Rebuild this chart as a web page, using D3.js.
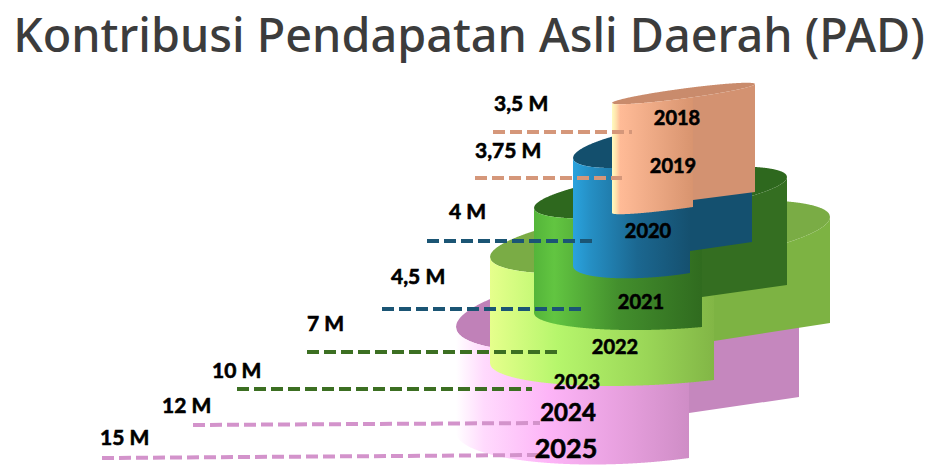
<!DOCTYPE html>
<html>
<head>
<meta charset="utf-8">
<script src="https://cdn.jsdelivr.net/npm/d3@7"></script>
<style>
  html, body { margin: 0; padding: 0; background: #fff; }
  svg { display: block; }
</style>
</head>
<body>
<div id="chart"></div>
<script>
// ---- data ----
const title = 'Kontribusi Pendapatan Asli Daerah (PAD)';
const years = ['2018', '2019', '2020', '2021', '2022', '2023', '2024', '2025'];
const values = [3.5, 3.75, 4, 4.5, 7, 10, 12, 15];           // miliar (M)
const valueLabels = values.map(v => String(v).replace('.', ',') + ' M');
const tierKeys = ['peach', 'blue', 'dkgreen', 'ltgreen', 'pink'];   // top -> bottom
const lineKeys = ['peach', 'peach', 'blue', 'blue', 'green', 'green', 'pink', 'pink'];

// ---- styles ----
const lineColor = { peach: '#d5977a', blue: '#1b5574', green: '#3c6f22', pink: '#d393cb' };
const tierStyle = {
  peach:   { top: '#c98b6c', side: '#d39271', stops: [[0, '#fffcc0'], [0.05, '#ffe2ad'], [0.1, '#ffbb97'], [1, '#d8946f']] },
  blue:    { top: '#134f6d', side: '#14506f', stops: [[0, '#2aa3de'], [0.15, '#258fc4'], [0.55, '#1b6790'], [1, '#15506f']] },
  dkgreen: { top: '#2e681e', side: '#346e21', stops: [[0, '#54b53a'], [0.12, '#62c541'], [0.5, '#438f2d'], [1, '#306b1f']] },
  ltgreen: { top: '#7aac45', side: '#7db343', stops: [[0, '#e6ff8c'], [0.3, '#b6f66c'], [0.7, '#9ad657'], [1, '#82b646']] },
  pink:    { top: '#c081b8', side: '#c587be', stops: [[0, '#ffffff'], [0.12, '#ffdafd'], [0.4, '#fdb4f7'], [0.75, '#e49ddb'], [1, '#cf8dc6']] }
};

// ---- layout (pixel geometry of the stepped cylinders) ----
const W = 938, H = 472;
const tierShape = {
  peach:   { L: 612, R: 755, topL: 103, topR: 84,  ry: 5,  S: 693, botL: 213, botS: 207, botS2: 200, botR: 192 },
  blue:    { L: 573, R: 752, topL: 158, topR: 132, ry: 19, S: 690, botL: 266, botS: 273, botS2: 251, botR: 242 },
  dkgreen: { L: 534, R: 787, topL: 208, topR: 177, ry: 21, S: 702, botL: 313, botS: 327, botS2: 297, botR: 285 },
  ltgreen: { L: 490, R: 830, topL: 257, topR: 217, ry: 31, S: 714, botL: 363, botS: 380, botS2: 341, botR: 323 },
  pink:    { L: 456, R: 799, topL: 327, topR: 287, ry: 40, S: 689, botL: 432, botS: 458, botS2: 413, botR: 397 }
};
const rowLine = d3.scaleOrdinal(years, [[132, 493, 632], [178, 475, 622], [241, 427, 595], [309, 382, 581],
                                        [352, 307, 558], [389, 237, 532], [[425, 423], 193, 540], [[458, 455], 102, 538]]);
const rowLabel = d3.scaleOrdinal(years, [[494, 111], [475, 158], [449, 219], [391, 284],
                                         [307, 331], [212, 378], [162, 413], [100, 445]]);
const rowYear = d3.scaleOrdinal(years, [[677, 125, 20], [673, 173, 20], [648, 238, 20], [641, 309, 20],
                                        [615, 354, 20], [577, 389, 20], [568, 421, 24], [566, 458, 27]]);

const svg = d3.select('#chart').append('svg').attr('width', W).attr('height', H);
const defs = svg.append('defs');

// title, fitted to the reference width
const t = svg.append('text').attr('x', W / 2).attr('y', 52).attr('text-anchor', 'middle')
  .style('font-family', '"Noto Sans", "Open Sans", sans-serif').style('font-weight', 500)
  .style('font-size', '46px').style('fill', '#3c3c3c').text(title);
const tw = t.node().getComputedTextLength();
t.style('font-size', (46 * 912 / tw) + 'px');

const line = d3.line();

const tierGeom = s => {
  const cx = (s.L + s.R) / 2, a = (s.R - s.L) / 2, sl = (s.topR - s.topL) / (s.R - s.L);
  const hh = x => Math.sqrt(Math.max(0, 1 - ((x - cx) / a) ** 2));
  const mid = x => s.topL + sl * (x - s.L);
  const up = x => mid(x) - s.ry * hh(x), lo = x => mid(x) + s.ry * hh(x);
  const k = (s.botS - s.botL - s.ry * hh(s.S)) / (s.S - s.L);
  const bot = x => s.botL + k * (x - s.L) + s.ry * hh(x);
  const xsAll = d3.range(s.L, s.R, 0.5).concat([s.R]);
  const xsLeft = d3.range(s.L, s.S, 0.5).concat([s.S]);
  const xsRight = d3.range(s.S, s.R, 0.5).concat([s.R]);
  return {
    top: line(xsAll.map(x => [x, up(x)]).concat(xsAll.slice().reverse().map(x => [x, lo(x)]))) + 'Z',
    left: line(xsLeft.map(x => [x, lo(x)]).concat(xsLeft.slice().reverse().map(x => [x, bot(x)]))) + 'Z',
    right: line(xsRight.map(x => [x, lo(x)]).concat([[s.R, s.botR], [s.S, s.botS2]])) + 'Z'
  };
};

// draw bottom tier first so upper tiers overlap it
const gT = svg.append('g');
tierKeys.slice().reverse().forEach(key => {
  const s = tierShape[key], st = tierStyle[key], g = tierGeom(s);
  const grad = defs.append('linearGradient').attr('id', 'g-' + key)
    .attr('gradientUnits', 'userSpaceOnUse').attr('x1', s.L).attr('x2', s.S).attr('y1', 0).attr('y2', 0);
  st.stops.forEach(([o, c]) => grad.append('stop').attr('offset', o).attr('stop-color', c));
  const tg = gT.append('g');
  tg.append('path').attr('d', g.top).attr('fill', st.top);
  tg.append('path').attr('d', g.right).attr('fill', st.side);
  tg.append('path').attr('d', g.left).attr('fill', `url(#g-${key})`);
});

// dashed leader lines
svg.append('g').selectAll('line').data(years).join('line')
  .attr('x1', d => rowLine(d)[1]).attr('x2', d => rowLine(d)[2])
  .attr('y1', d => [].concat(rowLine(d)[0])[0])
  .attr('y2', d => { const y = [].concat(rowLine(d)[0]); return y[y.length - 1]; })
  .attr('stroke', (d, i) => lineColor[lineKeys[i]])
  .attr('stroke-width', 4).attr('stroke-dasharray', '12 5');

const font = 'Lato, "Open Sans", sans-serif';
// value labels
svg.append('g').selectAll('text').data(years).join('text')
  .attr('x', d => rowLabel(d)[0]).attr('y', d => rowLabel(d)[1])
  .style('font-family', font).style('font-weight', 700).style('font-size', '21px')
  .style('fill', '#000').style('stroke', '#000').style('stroke-width', 0.6)
  .text((d, i) => valueLabels[i]);

// year labels
svg.append('g').selectAll('text').data(years).join('text')
  .attr('x', d => rowYear(d)[0]).attr('y', d => rowYear(d)[1]).attr('text-anchor', 'middle')
  .style('font-family', font).style('font-weight', 700).style('font-size', d => rowYear(d)[2] + 'px')
  .style('fill', '#000').style('stroke', '#000').style('stroke-width', 0.6).text(d => d);
</script>
</body>
</html>
